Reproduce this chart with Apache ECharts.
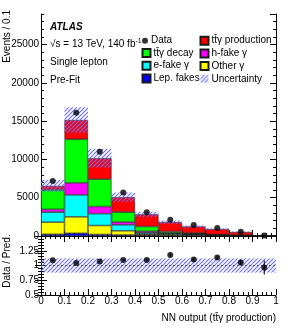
<!DOCTYPE html>
<html><head><meta charset="utf-8">
<script src="https://cdn.jsdelivr.net/npm/echarts@6/dist/echarts.min.js"></script>
<style>html,body{margin:0;padding:0;background:#fff}#c{width:291px;height:328px}</style>
</head><body><div id="c"></div>
<script>
// ---- data ----
const binEdges = [0, 0.1, 0.2, 0.3, 0.4, 0.5, 0.6, 0.7, 0.8, 0.9, 1.0];
const binLabels = ['0-0.1','0.1-0.2','0.2-0.3','0.3-0.4','0.4-0.5','0.5-0.6','0.6-0.7','0.7-0.8','0.8-0.9','0.9-1'];
const lepFakes   = [220, 350, 200, 130, 100, 70, 50, 30, 15, 5];
const otherGamma = [1593, 2154, 1169, 548, 148, 130, 100, 50, 25, 7];
const eFakeGamma = [1304, 2868, 1552, 782, 169, 130, 100, 40, 20, 6];
const hFakeGamma = [365, 1565, 926, 353, 196, 70, 50, 30, 15, 4];
const ttyDecay   = [2542, 5699, 3573, 1304, 626, 187, 78, 50, 35, 8];
const ttyProd    = [522, 2516, 2738, 1956, 1591, 1226, 861, 708, 412, 42];
const dataCounts = [7198, 16104, 11019, 5672, 3117, 2112, 1421, 1030, 548, 70];
const relUnc     = [0.12, 0.11, 0.12, 0.12, 0.12, 0.12, 0.12, 0.12, 0.12, 0.12];
const ratioValues = [1.089, 1.044, 1.067, 1.094, 1.094, 1.178, 1.10, 1.134, 1.05, 0.966];
const ratioErrors = [0.012, 0.008, 0.01, 0.014, 0.02, 0.025, 0.03, 0.037, 0.045, 0.12];
const ratioUnc    = [0.12, 0.12, 0.12, 0.12, 0.12, 0.12, 0.12, 0.12, 0.12, 0.12];

const FONT = 'Liberation Sans, Arial, Helvetica, sans-serif';
const centers = binEdges.slice(0, -1).map((e, i) => (e + binEdges[i + 1]) / 2);

function hatchCanvas() {
  const c = document.createElement('canvas');
  c.width = 4; c.height = 4;
  const g = c.getContext('2d');
  g.clearRect(0, 0, 4, 4);
  g.strokeStyle = '#6a6aff';
  g.lineWidth = 1.1;
  g.beginPath();
  g.moveTo(-1, 5); g.lineTo(5, -1);
  g.moveTo(-1, 1); g.lineTo(1, -1);
  g.moveTo(3, 5); g.lineTo(5, 3);
  g.stroke();
  return c;
}
const hatch = { image: hatchCanvas(), repeat: 'repeat' };

const mcDefs = [
  { name: 'Lep. fakes', data: lepFakes, color: '#0000ff' },
  { name: 'Other γ', data: otherGamma, color: '#ffff00' },
  { name: 'e-fake γ', data: eFakeGamma, color: '#00ffff' },
  { name: 'h-fake γ', data: hFakeGamma, color: '#ff00ff' },
  { name: 'tt\u0304γ decay', data: ttyDecay, color: '#00ff00' },
  { name: 'tt\u0304γ production', data: ttyProd, color: '#ff0000' }
];
const totals = binLabels.map((_, i) => mcDefs.reduce((s, d) => s + d.data[i], 0));

const chart = echarts.init(document.getElementById('c'), null, { renderer: 'canvas' });

const axLine = { show: true, lineStyle: { color: '#000', width: 1 } };
const lbl = { color: '#000', fontSize: 10, fontFamily: FONT, hideOverlap: false, formatter: v => String(+v.toFixed(2)) };

const series = [];
mcDefs.forEach(d => {
  series.push({
    name: d.name, type: 'bar', stack: 'mc', xAxisIndex: 0, yAxisIndex: 0,
    data: d.data, barGap: '-100%', barCategoryGap: '0%',
    itemStyle: { color: d.color, borderColor: '#1a1a1a', borderWidth: 0.6 },
    emphasis: { disabled: true }, animation: false
  });
});
series.push({
  name: 'uncBase', type: 'bar', stack: 'unc', xAxisIndex: 0, yAxisIndex: 0,
  data: totals.map((t, i) => t * (1 - relUnc[i])),
  itemStyle: { color: 'rgba(0,0,0,0)' }, barGap: '-100%', barCategoryGap: '0%',
  emphasis: { disabled: true }, animation: false, silent: true
});
series.push({
  name: 'Uncertainty', type: 'bar', stack: 'unc', xAxisIndex: 0, yAxisIndex: 0,
  data: totals.map((t, i) => 2 * t * relUnc[i]),
  itemStyle: { color: hatch, opacity: 1 }, barGap: '-100%', barCategoryGap: '0%',
  emphasis: { disabled: true }, animation: false, z: 3
});
series.push({
  name: 'Data', type: 'scatter', xAxisIndex: 1, yAxisIndex: 0,
  data: dataCounts.map((v, i) => [centers[i], v]),
  symbol: 'circle', symbolSize: 6, itemStyle: { color: '#000' }, z: 10, animation: false
});
// ratio panel
series.push({
  name: 'rBase', type: 'bar', stack: 'r', xAxisIndex: 3, yAxisIndex: 4,
  data: ratioUnc.map(u => 1 - u), itemStyle: { color: 'rgba(0,0,0,0)' },
  barGap: '-100%', barCategoryGap: '0%', animation: false, silent: true
});
series.push({
  name: 'rBand', type: 'bar', stack: 'r', xAxisIndex: 3, yAxisIndex: 4,
  data: ratioUnc.map(u => 2 * u), itemStyle: { color: hatch, opacity: 1 },
  barGap: '-100%', barCategoryGap: '0%', animation: false, silent: true
});
series.push({
  name: 'rLine', type: 'line', xAxisIndex: 4, yAxisIndex: 4,
  data: [[0, 1], [1, 1]], symbol: 'none',
  lineStyle: { color: '#556', width: 1, type: [2, 2] }, animation: false, silent: true, z: 4
});
series.push({
  name: 'rErr', type: 'custom', xAxisIndex: 4, yAxisIndex: 4,
  data: ratioValues.map((r, i) => [centers[i], r, ratioErrors[i]]),
  renderItem: (p, api) => {
    const a = api.coord([api.value(0), api.value(1) - api.value(2)]);
    const b = api.coord([api.value(0), api.value(1) + api.value(2)]);
    return { type: 'line', shape: { x1: a[0], y1: a[1], x2: b[0], y2: b[1] }, style: { stroke: '#000', lineWidth: 1 } };
  }, z: 9, animation: false, silent: true
});
series.push({
  name: 'rData', type: 'scatter', xAxisIndex: 4, yAxisIndex: 4,
  data: ratioValues.map((r, i) => [centers[i], r]),
  symbol: 'circle', symbolSize: 6, itemStyle: { color: '#000' }, z: 10, animation: false
});

function valX(grid, pos, labels) {
  return {
    type: 'value', gridIndex: grid, position: pos, min: 0, max: 1, interval: 0.1,
    axisLine: axLine,
    axisTick: { show: true, inside: true, length: 6, lineStyle: { color: '#000' } },
    minorTick: { show: true, splitNumber: 5, length: 3, lineStyle: { color: '#000' } },
    axisLabel: labels ? Object.assign({ show: true, margin: 1 }, lbl) : { show: false },
    splitLine: { show: false }
  };
}
function catX(grid) {
  return { type: 'category', gridIndex: grid, data: binLabels, show: false, boundaryGap: true };
}
function valY(grid, pos, min, max, interval, tickLen, labels, line, minor) {
  const o = {
    type: 'value', gridIndex: grid, position: pos, min: min, max: max, interval: interval,
    axisLine: line ? axLine : { show: false },
    axisTick: { show: true, inside: true, length: tickLen, lineStyle: { color: '#000' } },
    axisLabel: labels ? Object.assign({ show: true, margin: 2, showMaxLabel: false }, lbl) : { show: false },
    splitLine: { show: false }
  };
  if (minor) o.minorTick = { show: true, splitNumber: minor, length: 3, lineStyle: { color: '#000' } };
  return o;
}

const legendCommon = {
  orient: 'vertical', padding: 0, selectedMode: false,
  textStyle: { color: '#000', fontSize: 10, fontFamily: FONT, lineHeight: 12, padding: [0, 0, 0, -2] },
  itemGap: 0.7
};

chart.setOption({
  animation: false,
  textStyle: { fontFamily: FONT },
  grid: [
    { left: 41, top: 14, width: 235, height: 222, outerBoundsMode: 'none' },
    { left: 41, top: 236, width: 235, height: 59, outerBoundsMode: 'none' }
  ],
  xAxis: [catX(0), valX(0, 'bottom', false), valX(0, 'top', false), catX(1), valX(1, 'bottom', true), valX(1, 'top', false)],
  yAxis: [
    valY(0, 'left', 0, 29000, 5000, 6, true, true),
    valY(0, 'left', 0, 29000, 1000, 3, false, false),
    valY(0, 'right', 0, 29000, 5000, 6, false, true),
    valY(0, 'right', 0, 29000, 1000, 3, false, false),
    valY(1, 'left', 0.5, 1.5, 0.25, 6, true, true, 5),
    valY(1, 'right', 0.5, 1.5, 0.25, 6, false, true, 5)
  ],
  legend: [
    Object.assign({}, legendCommon, { data: [{ name: 'Data', icon: 'circle' }], left: 142, top: 34.7, itemWidth: 6, itemHeight: 6 }),
    Object.assign({}, legendCommon, { data: ['tt\u0304γ decay', 'e-fake γ', 'Lep. fakes'], left: 141.5, top: 47, itemWidth: 8, itemHeight: 8, icon: 'rect' }),
    Object.assign({}, legendCommon, { data: ['tt\u0304γ production', 'h-fake γ', 'Other γ', 'Uncertainty'], left: 199.5, top: 34.7, itemWidth: 8, itemHeight: 8, icon: 'rect' })
  ],
  graphic: [
    { type: 'text', x: 50, y: 27, style: { text: 'ATLAS', font: 'italic bold 10px ' + FONT, fill: '#000', verticalAlign: 'middle' } },
    { type: 'text', x: 50, y: 44, style: {
        text: '{a|√s = 13 TeV, 140 fb}{b|-1}', verticalAlign: 'middle',
        rich: { a: { fontSize: 10, fontFamily: FONT, fill: '#000', color: '#000', lineHeight: 12 },
                b: { fontSize: 7, fontFamily: FONT, fill: '#000', color: '#000', lineHeight: 12, verticalAlign: 'top' } } } },
    { type: 'text', x: 50, y: 62.3, style: { text: 'Single lepton', font: '10px ' + FONT, fill: '#000', verticalAlign: 'middle' } },
    { type: 'text', x: 50, y: 80, style: { text: 'Pre-Fit', font: '10px ' + FONT, fill: '#000', verticalAlign: 'middle' } },
    { type: 'text', x: 7.5, y: 10, rotation: Math.PI / 2, style: { text: 'Events / 0.1', font: '10px ' + FONT, fill: '#000', align: 'right', verticalAlign: 'middle' } },
    { type: 'text', x: 7.5, y: 261, rotation: Math.PI / 2, style: { text: 'Data / Pred.', font: '10px ' + FONT, fill: '#000', align: 'center', verticalAlign: 'middle' } },
    { type: 'text', x: 276, y: 318, style: { text: 'NN output (tt\u0304γ production)', font: '10px ' + FONT, fill: '#000', align: 'right', verticalAlign: 'middle' } }
  ],
  series: series
});
</script></body></html>
